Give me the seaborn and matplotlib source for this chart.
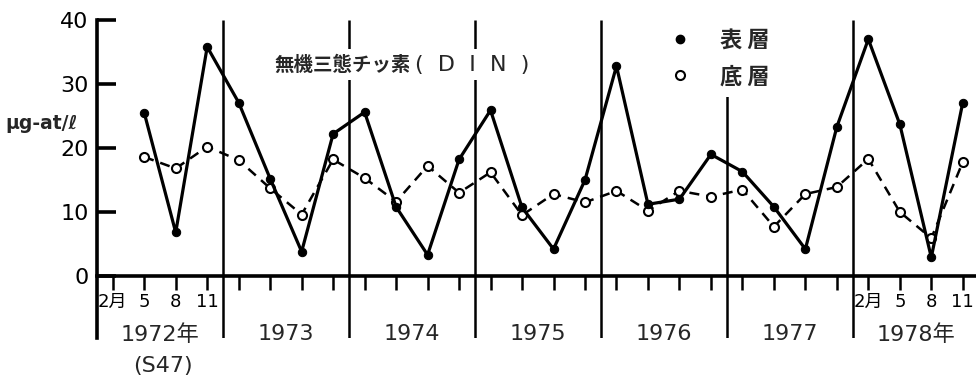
import matplotlib
matplotlib.use("Agg")
import matplotlib.pyplot as plt
from matplotlib.lines import Line2D
import seaborn as sns
import pandas as pd

# Sampling schedule: quarterly surveys (Feb, May, Aug, Nov), May 1972 - Nov 1978
years = [1972, 1973, 1974, 1975, 1976, 1977, 1978]
months = [2, 5, 8, 11]
sample_year = [1972] * 3 + [1973] * 4 + [1974] * 4 + [1975] * 4 + [1976] * 4 + [1977] * 4 + [1978] * 4
sample_month = [5, 8, 11] + [2, 5, 8, 11] * 6

# Dissolved inorganic nitrogen (μg-at/ℓ)
surface = [25.5, 6.8, 35.8,
           27.1, 15.2, 3.8, 22.2,
           25.6, 10.8, 3.3, 18.2,
           25.9, 10.7, 4.2, 15.0,
           32.8, 11.2, 12.0, 19.0,
           16.3, 10.8, 4.2, 23.3,
           37.0, 23.7, 2.9, 27.1]
bottom = [18.6, 16.8, 20.2,
          18.1, 13.7, 9.6, 18.2,
          15.3, 11.6, 17.2, 13.0,
          16.2, 9.5, 12.8, 11.5,
          13.3, 10.2, 13.3, 12.4,
          13.5, 7.7, 12.8, 13.9,
          18.3, 10.0, 5.9, 17.8]

year_labels = ["1972年", "1973", "1974", "1975", "1976", "1977", "1978年"]
month_labels = ["2月", "5", "8", "11"]
y_ticks = [0, 10, 20, 30, 40]

df = pd.DataFrame({"year": sample_year, "month": sample_month,
                   "surface": surface, "bottom": bottom})
df["q"] = (df["year"] - years[0]) * 4 + df["month"].map(months.index)

sns.set_theme(style="white")
plt.rcParams["font.family"] = ["DejaVu Sans", "Noto Sans CJK JP"]
plt.rcParams["axes.unicode_minus"] = False

fig = plt.figure(figsize=(9.76, 3.76), dpi=100)
ax = fig.add_axes([0.0994, 0.101, 0.9006, 0.8458])

ymin, ymax = -9.7, 40
n_q = len(years) * 4
ax.set_xlim(-0.5, n_q - 0.58)
ax.set_ylim(ymin, ymax)

# year separators
for k in range(1, len(years)):
    ax.vlines(4 * k - 0.5, ymin, ymax, color="black", lw=1.8, zorder=1)

sns.lineplot(data=df, x="q", y="bottom", ax=ax, color="black", lw=1.8,
             linestyle=(0, (4, 2.8)), marker="o", markersize=6.5,
             markerfacecolor="white", markeredgecolor="black",
             markeredgewidth=1.5, zorder=3)
sns.lineplot(data=df, x="q", y="surface", ax=ax, color="black", lw=2.3,
             marker="o", markersize=6, markerfacecolor="black",
             markeredgecolor="black", zorder=4)

# axes styling
for s in ["top", "right"]:
    ax.spines[s].set_visible(False)
ax.spines["left"].set_linewidth(2.6)
ax.spines["bottom"].set_linewidth(2.6)
ax.spines["bottom"].set_position(("data", 0))
ax.spines["left"].set_color("black")
ax.spines["bottom"].set_color("black")

ax.set_yticks(y_ticks)
ax.set_yticklabels([str(v) for v in y_ticks], fontsize=16)
ax.tick_params(axis="y", direction="in", length=14, width=2.6, pad=6,
               left=True, colors="black")

xt = list(range(n_q))
xl = [""] * n_q
for i, lab in enumerate(month_labels):
    xl[i] = lab
    xl[n_q - 4 + i] = lab
ax.set_xticks(xt)
ax.set_xticklabels(xl, fontsize=13)
ax.tick_params(axis="x", direction="out", length=10, width=1.8, pad=2,
               bottom=True, colors="black")
ax.set_xlabel("")
ax.set_ylabel("")

# year labels beneath the axis
for k, lab in enumerate(year_labels):
    ax.text(4 * k + 1.5, -9.1, lab, ha="center", va="center", fontsize=16,
            clip_on=False)
ax.text(1.6, -14.0, "(S47)", ha="center", va="center", fontsize=16,
        clip_on=False)

ax.text(-3.41, 23.75, "μg-at/ℓ", ha="left", va="center", fontsize=13.5,
        fontweight="bold", clip_on=False)

# chart title: kana/kanji part and the spaced abbreviation
ax.text(5.13, 33.0, "無機三態チッ素", ha="left", va="center",
        fontsize=14, fontweight="bold",
        family=["Noto Sans CJK JP", "DejaVu Sans"],
        bbox=dict(facecolor="white", edgecolor="none", pad=4), zorder=5)
ax.text(9.6, 33.0, "(  D  I  N  )", ha="left", va="center",
        fontsize=16, family=["DejaVu Sans"],
        bbox=dict(facecolor="white", edgecolor="none", pad=4), zorder=5.1)

handles = [Line2D([], [], ls="none", marker="o", markersize=6,
                  markerfacecolor="black", markeredgecolor="black"),
           Line2D([], [], ls="none", marker="o", markersize=6.5,
                  markerfacecolor="white", markeredgecolor="black",
                  markeredgewidth=1.5)]
leg = ax.legend(handles, ["表 層", "底 層"], loc="upper left",
                bbox_to_anchor=(0.628, 1.0), borderaxespad=0, frameon=True,
                prop={"family": ["Noto Sans CJK JP"], "size": 16,
                      "weight": "bold"},
                handlelength=2.0, handletextpad=0.8, labelspacing=0.6,
                borderpad=0.4)
leg.get_frame().set_facecolor("white")
leg.get_frame().set_edgecolor("none")
leg.get_frame().set_alpha(1)
leg.set_zorder(6)

fig.savefig("out.png", dpi=100)
